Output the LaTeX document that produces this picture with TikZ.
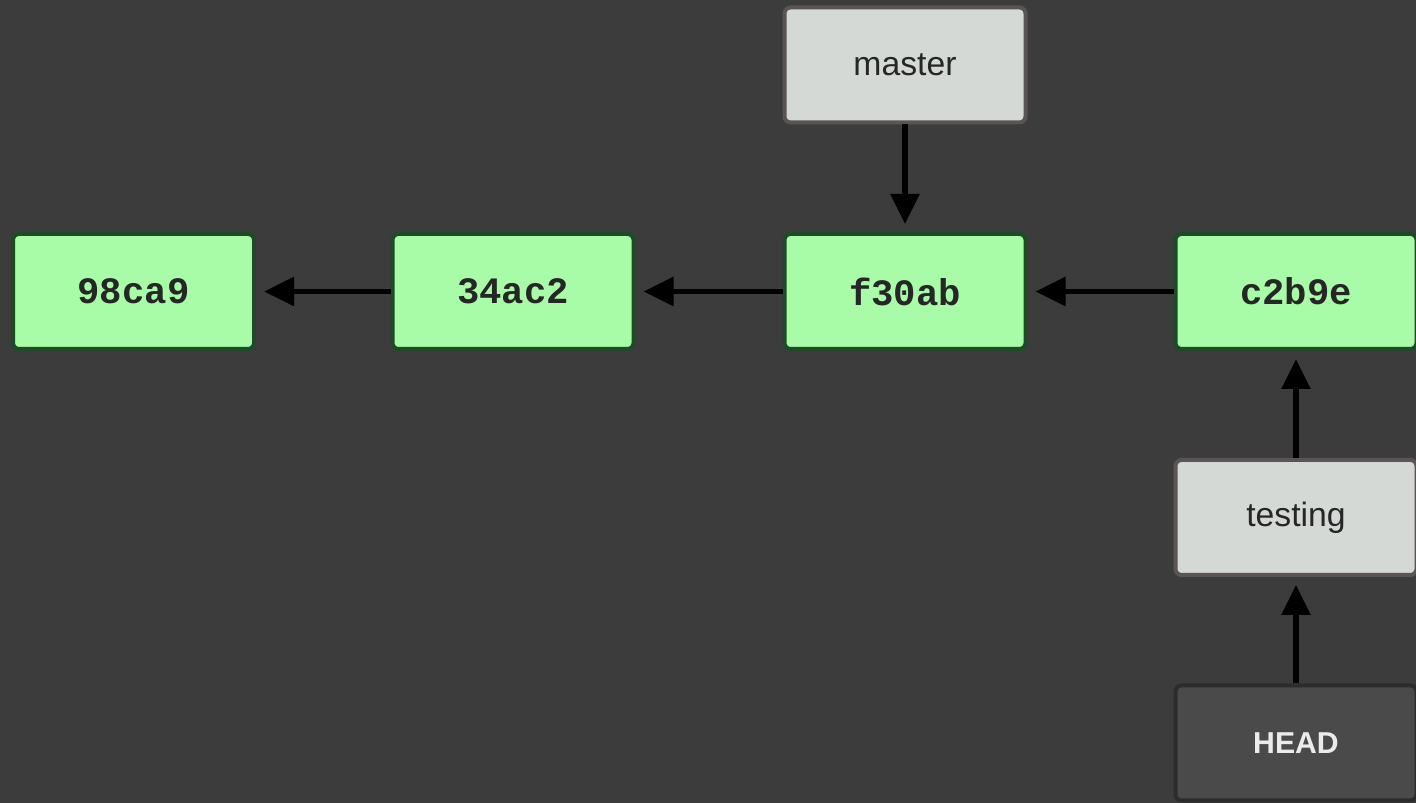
\documentclass[tikz,border=0pt]{standalone}
\usepackage{fontspec}
\setmainfont{Liberation Sans}
\setmonofont{Liberation Mono}
\usetikzlibrary{arrows.meta}
\definecolor{bgcol}{HTML}{3C3C3C}
\definecolor{commitfill}{HTML}{A8FCA8}
\definecolor{commitline}{HTML}{1F4A28}
\definecolor{reffill}{HTML}{D4D9D6}
\definecolor{refline}{HTML}{5A5454}
\definecolor{headfill}{HTML}{4A4A4A}
\definecolor{headline}{HTML}{2C2C2C}

\begin{document}
\begin{tikzpicture}[
  box/.style={rectangle, rounded corners=0.06cm, line width=0.04cm,
    minimum width=2.41cm, minimum height=1.15cm, inner sep=0pt},
  commit/.style={box, fill=commitfill, draw=commitline, text=black!85,
    font=\ttfamily\bfseries\fontsize{10.6}{13}\selectfont},
  branch/.style={box, fill=reffill, draw=refline, text=black!85,
    font=\fontsize{9.6}{12}\selectfont},
  headref/.style={box, fill=headfill, draw=headline, text=white!92!black,
    font=\bfseries\fontsize{8.6}{11}\selectfont},
  pointer/.style={line width=0.055cm, -{Triangle[length=0.3cm,width=0.28cm]},
    shorten >=0.08cm}
]
\fill[bgcol] (0,0) rectangle (14.16,8.03);
\useasboundingbox (0,0) rectangle (14.16,8.03);

\node[commit] (c1) at (1.335,5.115) {98ca9};
\node[commit] (c2) at (5.13,5.115) {34ac2};
\node[commit] (c3) at (9.05,5.115) {f30ab};
\node[commit] (c4) at (12.96,5.115) {c2b9e};

\node[branch] (master) at (9.05,7.38) {master};
\node[branch] (testing) at (12.96,2.855) {testing};
\node[headref] (head) at (12.96,0.60) {HEAD};

\draw[pointer] (c2) -- (c1);
\draw[pointer] (c3) -- (c2);
\draw[pointer] (c4) -- (c3);
\draw[pointer] (master) -- (c3);
\draw[pointer] (testing) -- (c4);
\draw[pointer] (head) -- (testing);

\end{tikzpicture}
\end{document}
